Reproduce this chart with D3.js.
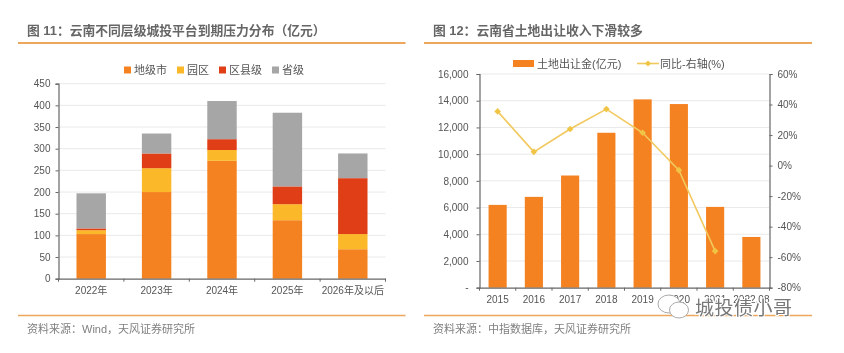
<!DOCTYPE html>
<html>
<head>
<meta charset="utf-8">
<script src="https://cdn.jsdelivr.net/npm/d3@7"></script>
<style>
    html, body { margin: 0; padding: 0; background: #fff; overflow: hidden; }
    svg { display: block; filter: blur(0.5px); }
    text { font-family: "Liberation Sans", "Noto Sans CJK SC", sans-serif; }
</style>
</head>
<body>
<div id="chart"></div>
<script>
const years = ['2022年', '2023年', '2024年', '2025年', '2026年及以后'];
const cityLevel = [103, 200, 272, 135, 68];
const parkLevel = [9, 55, 25, 37, 35];
const countyLevel = [4, 34, 25, 41, 129];
const provinceLevel = [81, 46, 88, 170, 57];
const stackNames = ['地级市', '园区', '区县级', '省级'];
const stackColors = ['#f58220', '#fbb829', '#e03e16', '#a6a6a6'];

const landYears = ['2015', '2016', '2017', '2018', '2019', '2020', '2021', '2022.08'];
const landIncome = [6200, 6800, 8400, 11600, 14100, 13750, 6050, 3800];
const landYoy = [35.5, 9, 24, 37, 21.5, -3, -56, null];

const orange = '#f58220';
const rule = '#eda75c';
const textColor = '#555';
const axisColor = '#666';
const gridColor = '#e9e9e9';
const lineColor = '#f2c95f';

const svg = d3.select('#chart')
    .append('svg')
        .attr('width', 844)
        .attr('height', 353);

svg.append('rect')
    .attr('width', 844)
    .attr('height', 353)
    .attr('fill', '#fff');

function frame(x0, x1, titleX, title, source) {
    svg.append('text')
        .attr('x', titleX)
        .attr('y', 35)
        .attr('fill', '#666')
        .style('font-size', '12.8px')
        .style('font-weight', 'bold')
        .text(title);
    svg.append('text')
        .attr('x', titleX)
        .attr('y', 333)
        .attr('fill', '#808080')
        .style('font-size', '11px')
        .text(source);
    [43, 315.5].forEach((y, i) => {
        svg.append('line')
            .attr('x1', x0)
            .attr('x2', x1)
            .attr('y1', y)
            .attr('y2', y)
            .attr('stroke', rule)
            .attr('stroke-width', i == 0 ? 1.8 : 1.3);
    });
}

function styleAxis(g, size) {
    g.selectAll('.domain').attr('stroke', axisColor).attr('stroke-width', 1.2);
    g.selectAll('.tick line').attr('stroke', axisColor);
    g.selectAll('.tick text')
        .attr('fill', textColor)
        .style('font-size', size + 'px');
}

// edge ticks between the bands on the category axis
function bandTicks(g, x, y0) {
    g.selectAll('.edge')
        .data(d3.range(x.domain().length + 1))
        .join('line')
            .attr('class', 'edge')
            .attr('x1', i => x.range()[0] + i * x.step())
            .attr('x2', i => x.range()[0] + i * x.step())
            .attr('y1', y0)
            .attr('y2', y0 + 3)
            .attr('stroke', axisColor);
}

function drawLeft() {
    const margin = {top: 83.7, left: 58.5, right: 385.5, bottom: 278.7};

    frame(18, 405.5, 27, '图 11：云南不同层级城投平台到期压力分布（亿元）', '资料来源：Wind，天风证券研究所');

    const x = d3.scaleBand()
        .domain(years)
        .range([margin.left, margin.right])
        .paddingInner(0.55)
        .paddingOuter(0.275);
    const y = d3.scaleLinear()
        .domain([0, 450])
        .range([margin.bottom, margin.top]);

    svg.append('g')
        .selectAll('line')
        .data(y.ticks(9).slice(1))
        .join('line')
            .attr('x1', margin.left)
            .attr('x2', margin.right)
            .attr('y1', d => y(d))
            .attr('y2', d => y(d))
            .attr('stroke', gridColor);

    const rows = years.map((d, i) => ({
        year: d,
        0: cityLevel[i],
        1: parkLevel[i],
        2: countyLevel[i],
        3: provinceLevel[i]
    }));
    const series = d3.stack().keys([0, 1, 2, 3])(rows);

    svg.append('g')
        .selectAll('g')
        .data(series)
        .join('g')
            .attr('fill', d => stackColors[d.key])
        .selectAll('rect')
        .data(d => d)
        .join('rect')
            .attr('x', d => x(d.data.year))
            .attr('width', x.bandwidth())
            .attr('y', d => y(d[1]))
            .attr('height', d => y(d[0]) - y(d[1]));

    svg.append('g')
        .attr('transform', `translate(${margin.left},0)`)
        .call(d3.axisLeft(y).ticks(9).tickSize(3).tickPadding(5))
        .call(g => styleAxis(g, 10));

    svg.append('g')
        .attr('transform', `translate(0,${margin.bottom})`)
        .call(d3.axisBottom(x).tickSize(0).tickPadding(8))
        .call(g => styleAxis(g, 10))
        .call(g => bandTicks(g, x, 0));

    // legend
    const legendX = [124, 177, 219, 272];
    stackNames.forEach((name, i) => {
        svg.append('rect')
            .attr('x', legendX[i])
            .attr('y', 66.5)
            .attr('width', 7)
            .attr('height', 7)
            .attr('fill', stackColors[i]);
        svg.append('text')
            .attr('x', legendX[i] + 10)
            .attr('y', 74)
            .attr('fill', textColor)
            .style('font-size', '11px')
            .text(name);
    });
}

function drawRight() {
    const margin = {top: 74, left: 479.5, right: 769.5, bottom: 287.7};

    frame(424, 812, 433, '图 12：云南省土地出让收入下滑较多', '资料来源：中指数据库，天风证券研究所');

    const x = d3.scaleBand()
        .domain(landYears)
        .range([margin.left, margin.right])
        .paddingInner(0.5)
        .paddingOuter(0.25);
    const y = d3.scaleLinear()
        .domain([0, 16000])
        .range([margin.bottom, margin.top]);
    const y2 = d3.scaleLinear()
        .domain([-80, 60])
        .range([margin.bottom, margin.top]);

    svg.append('g')
        .selectAll('line')
        .data(y.ticks(8).slice(1))
        .join('line')
            .attr('x1', margin.left)
            .attr('x2', margin.right)
            .attr('y1', d => y(d))
            .attr('y2', d => y(d))
            .attr('stroke', gridColor);

    svg.append('g')
        .selectAll('rect')
        .data(landIncome)
        .join('rect')
            .attr('x', (d, i) => x(landYears[i]))
            .attr('width', x.bandwidth())
            .attr('y', d => y(d))
            .attr('height', d => y(0) - y(d))
            .attr('fill', orange);

    const line = d3.line()
        .defined(d => d != null)
        .x((d, i) => x(landYears[i]) + x.bandwidth() / 2)
        .y(d => y2(d));

    svg.append('path')
        .datum(landYoy)
        .attr('fill', 'none')
        .attr('stroke', lineColor)
        .attr('stroke-width', 1.6)
        .attr('d', line);

    svg.append('g')
        .selectAll('path')
        .data(landYoy.map((d, i) => [landYears[i], d]).filter(d => d[1] != null))
        .join('path')
            .attr('d', d3.symbol(d3.symbolSquare, 22))
            .attr('transform', d => `translate(${x(d[0]) + x.bandwidth() / 2},${y2(d[1])}) rotate(45)`)
            .attr('fill', '#f0c545');

    svg.append('g')
        .attr('transform', `translate(${margin.left},0)`)
        .call(d3.axisLeft(y)
            .ticks(8)
            .tickSize(3)
            .tickPadding(8)
            .tickFormat(d => d == 0 ? '-' : d3.format(',')(d)))
        .call(g => styleAxis(g, 10));

    svg.append('g')
        .attr('transform', `translate(${margin.right},0)`)
        .call(d3.axisRight(y2)
            .tickValues(d3.range(-80, 61, 20))
            .tickSize(3)
            .tickPadding(5)
            .tickFormat(d => d + '%'))
        .call(g => styleAxis(g, 10));

    svg.append('g')
        .attr('transform', `translate(0,${margin.bottom})`)
        .call(d3.axisBottom(x).tickSize(0).tickPadding(8))
        .call(g => styleAxis(g, 10))
        .call(g => bandTicks(g, x, 0));

    // legend
    svg.append('rect')
        .attr('x', 513)
        .attr('y', 60)
        .attr('width', 21)
        .attr('height', 7)
        .attr('fill', orange);
    svg.append('text')
        .attr('x', 537)
        .attr('y', 68)
        .attr('fill', textColor)
        .style('font-size', '11px')
        .text('土地出让金(亿元)');
    svg.append('line')
        .attr('x1', 637)
        .attr('x2', 659)
        .attr('y1', 63.5)
        .attr('y2', 63.5)
        .attr('stroke', lineColor)
        .attr('stroke-width', 1.6);
    svg.append('path')
        .attr('d', d3.symbol(d3.symbolSquare, 18))
        .attr('transform', 'translate(648,63.5) rotate(45)')
        .attr('fill', '#f0c545');
    svg.append('text')
        .attr('x', 660)
        .attr('y', 68)
        .attr('fill', textColor)
        .style('font-size', '11px')
        .text('同比-右轴(%)');
}

function drawWatermark() {
    const wm = svg.append('g');
    wm.append('ellipse')
        .attr('cx', 669).attr('cy', 304).attr('rx', 11).attr('ry', 9);
    wm.append('ellipse')
        .attr('cx', 679).attr('cy', 310).attr('rx', 9.5).attr('ry', 8);
    wm.selectAll('ellipse')
        .attr('fill', '#fff')
        .attr('stroke', '#aaa')
        .attr('stroke-width', 1);
    wm.append('text')
        .attr('x', 695)
        .attr('y', 315)
        .attr('fill', '#777')
        .attr('stroke', '#fff')
        .attr('stroke-width', 2)
        .attr('paint-order', 'stroke')
        .style('font-size', '19px')
        .style('letter-spacing', '0.5px')
        .text('城投债小哥');
}

drawLeft();
drawRight();
drawWatermark();
</script>
</body>
</html>
